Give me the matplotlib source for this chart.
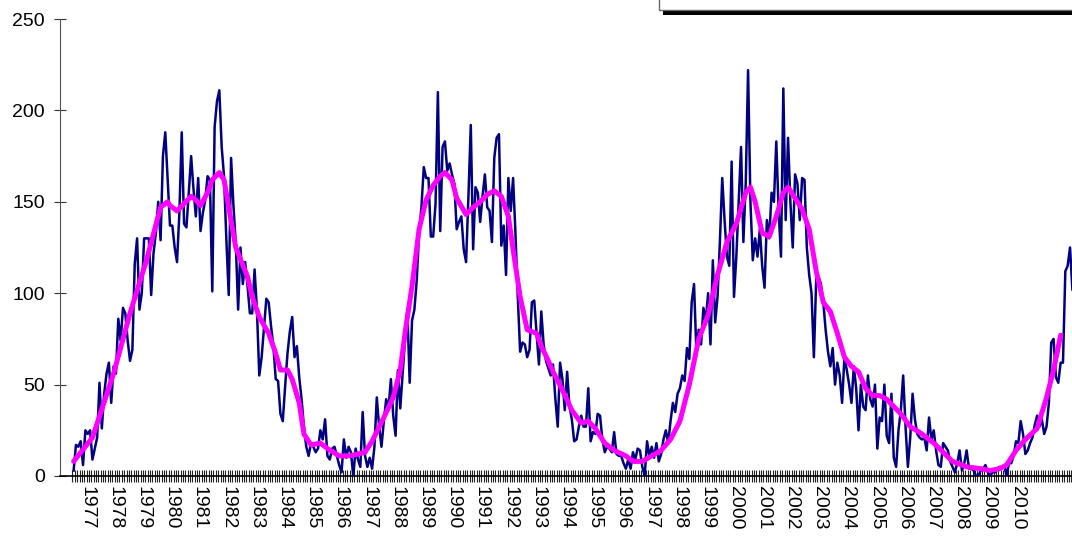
import numpy as np
import matplotlib.pyplot as plt
from matplotlib.patches import Rectangle

# monthly values, first month = July 1976
cycle21 = [3, 17, 16, 19, 6, 25, 23, 25, 9, 15, 21, 51, 26, 45, 56, 62, 40, 60, 56, 86,
           74, 92, 89, 74, 63, 69, 116, 130, 91, 100, 130, 130, 130, 99, 122, 133, 150, 129,
           175, 188, 162, 137, 137, 125, 117, 144, 188, 138, 136, 155, 175, 157, 142, 163,
           134, 144, 151, 164, 162, 101, 191, 205, 211, 180, 164, 129, 99, 174, 148, 127,
           91, 125, 105, 117, 104, 89, 89, 113, 91, 55,
           65, 81, 97, 95, 82, 71, 53, 52, 34, 30, 49, 67, 79, 87, 65, 71, 54, 42, 27, 16,
           11, 18, 16, 13, 15, 25, 20, 31, 11, 9, 15, 16, 11, 6, 2, 20, 10, 16, 13, 0]
cycle22 = [15, 9, 5, 35, 11, 5, 10, 4, 16, 43, 27, 16, 30, 42, 37, 53, 33, 22, 58, 37,
           56, 74, 91, 51, 85, 91, 107, 133, 147, 169, 163, 163, 131, 131, 149, 210, 134,
           180, 183, 167, 171, 165, 160,
           135, 139, 142, 124, 117, 153, 192, 124, 158, 155, 139, 153, 165, 147, 145, 128,
           174, 185, 187, 126, 137, 110, 163, 145, 163, 133, 98, 68, 73, 72, 65, 69, 95,
           96, 78, 61, 90, 72, 63, 59, 55, 61,
           42, 27, 62, 53, 36, 57, 38, 31, 19, 20, 27, 33, 27, 27, 48, 19, 24, 23, 34, 33,
           20, 13, 16, 15, 13, 24, 12, 11, 11, 7, 4, 9, 4, 13, 9]
cycle23 = [15, 14, 5, 0, 19, 11, 16,
           10, 18, 8, 12, 20, 25, 18, 30, 40, 35,
           45, 48, 55, 52, 70, 64, 95, 105, 68, 80,
           72, 92, 85, 100, 72, 118, 84, 98, 128, 163,
           140, 120, 115, 172, 98, 120, 150, 180, 128, 160,
           222, 150, 118, 130, 120, 135, 115, 103, 140, 130,
           155, 150, 183, 145, 120, 212, 140, 185, 150, 125,
           165, 160, 140, 163, 162, 125, 110, 100, 65, 108,
           109, 105, 95, 80, 68, 60, 70, 50, 62, 55,
           40, 65, 58, 50, 40, 60, 48, 25, 50, 38,
           36, 55, 42, 38, 50, 15, 32, 30, 50, 22,
           18, 45, 10, 5, 25,
           36, 55, 27, 5, 21, 45, 31, 23, 21, 20,
           21, 14, 32, 20, 25, 14, 6, 5, 18, 16,
           14, 8, 5, 2, 7, 14, 3, 7]
cycle24 = [14, 4,
           4, 3, 0, 0, 3, 4, 6, 2, 0, 2,
           2, 4, 5, 4, 6, 0, 7, 7, 11, 19,
           18, 30, 23, 12, 14, 18, 21, 28, 33, 27,
           31, 23, 27, 40, 73, 75, 54, 51, 62, 62,
           112, 115, 125, 102]

# smoothed curve: month offset (from July 1976) and value
smooth_month = [0, 8, 17, 24, 31, 37, 40, 41, 44, 47, 50, 52, 54, 57, 59, 62, 64, 66, 69,
                74, 76, 79, 83, 86, 88, 91, 93, 96, 98, 101, 105, 108, 113, 117, 121,
                124, 127, 132, 136, 139, 141, 144, 147, 150, 153, 156, 158, 161, 163,
                167, 170, 173, 176, 179, 182, 185, 187, 190, 193, 197, 199, 202, 204,
                208, 212, 216, 219, 222, 226, 230, 235, 238, 242, 246, 250, 254, 258,
                262, 266, 270, 274, 278, 282, 286, 288, 290, 293, 296, 299, 302, 304,
                307, 310, 313, 316, 319, 322, 325, 328, 331, 334, 337, 340, 343, 346,
                349, 352, 356, 361, 366, 370, 374, 380, 386, 390, 394, 397, 401, 405,
                410, 414, 417, 420]
smooth_value = [8, 21, 56, 89, 118, 147, 150, 148, 145, 149, 153, 151, 148, 155, 162, 166,
                162, 147, 125, 109, 98, 87, 78, 67, 58, 58, 53, 40, 23, 17, 18, 15, 11, 11,
                12, 13, 19, 32, 43, 58, 78, 104, 135, 151, 159, 164, 166, 162, 152,
                143, 147, 150, 154, 156, 153, 142, 124, 98, 80, 78, 71, 63, 57,
                47, 36, 29, 30, 26, 18, 14, 11, 8, 8, 11, 14, 20, 30,
                50, 75, 88, 110, 128, 138, 155, 158, 150, 133, 131, 142, 155, 158,
                152, 146, 135, 112, 95, 90, 78, 65, 60, 57, 48, 44, 44, 42,
                38, 34, 27, 23, 18, 13, 8, 5, 4, 3, 4, 6, 14, 20,
                26, 43, 58, 77]

years = list(range(1977, 2011))
year_labels = [str(y) for y in years]

monthly = np.array(cycle21 + cycle22 + cycle23 + cycle24, dtype=float)
months = np.arange(len(monthly))

plt.rcParams['font.family'] = ['Liberation Sans', 'DejaVu Sans']

W, H = 1072, 541
fig = plt.figure(figsize=(W / 100, H / 100), dpi=100)
ax = fig.add_axes([60 / W, 65 / H, 1030 / W, 457 / H])

ax.plot(months, monthly, color='#000080', lw=1.8, zorder=3)
ax.plot(smooth_month, smooth_value, color='#FF00FF', lw=3.6,
        solid_joinstyle='round', solid_capstyle='round', zorder=4)

px_per_month = 2.35
ax.set_xlim(-5.8, -5.8 + 1030 / px_per_month)
ax.set_ylim(0, 250)

# year labels sit on the boundary before January
year_pos = [(y - 1976) * 12 - 6 - 0.5 for y in years]
ax.set_xticks(year_pos)
ax.set_xticklabels(year_labels, rotation=270, fontsize=14)
ax.set_xticks(np.arange(len(monthly) + 4) - 0.5, minor=True)
ax.tick_params(axis='x', which='both', direction='inout', length=9, width=0.8,
               color='#222222', pad=3)

ax.set_yticks([0, 50, 100, 150, 200, 250])
ax.tick_params(axis='y', direction='inout', length=8, width=0.8, color='#333333',
               labelsize=14, pad=7)

for s in ['top', 'right']:
    ax.spines[s].set_visible(False)
ax.spines['left'].set_color('#555555')
ax.spines['bottom'].set_color('black')
ax.spines['bottom'].set_linewidth(1.2)
ax.patch.set_alpha(0)

# partial legend box cut at the top edge
fig.patches.append(Rectangle((663 / W, (H - 15) / H), 500 / W, 20 / H,
                             transform=fig.transFigure, facecolor='black',
                             edgecolor='none', zorder=5))
fig.patches.append(Rectangle((658.5 / W, (H - 9.5) / H), 500 / W, 20 / H,
                             transform=fig.transFigure, facecolor='white',
                             edgecolor='#666666', lw=1.0, zorder=6))

fig.savefig('out.png', dpi=100)
